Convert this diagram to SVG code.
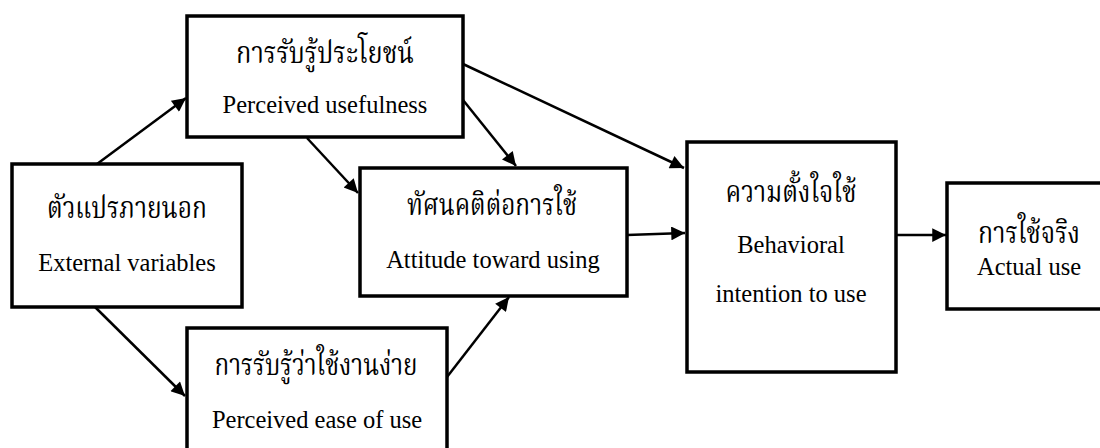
<svg xmlns="http://www.w3.org/2000/svg" width="1100" height="448" viewBox="0 0 1100 448">
  <style>
    .box { fill: #ffffff; stroke: #000000; stroke-width: 3.5; }
    .th { font-family: "Liberation Serif", "Noto Serif Thai", "Noto Sans Thai", serif; font-size: 30px; text-anchor: middle; fill: #000; }
    .en { font-family: "Liberation Serif", "Times New Roman", serif; font-size: 24.5px; text-anchor: middle; fill: #000; }
    .edge { stroke: #000000; stroke-width: 2.5; fill: none; marker-end: url(#arrow); }
  </style>
  <defs>
    <marker id="arrow" viewBox="0 0 10 10" refX="10" refY="5" markerWidth="6.5" markerHeight="5.5" markerUnits="strokeWidth" orient="auto">
      <path d="M0,0 L10,5 L0,10 z" fill="#000"/>
    </marker>
  </defs>
  <rect width="1100" height="448" fill="#ffffff"/>

  <!-- arrows between the constructs -->
  <g id="connectors">
    <line class="edge" x1="97" y1="164" x2="186" y2="98"/>
    <line class="edge" x1="95" y1="307" x2="185" y2="396"/>
    <line class="edge" x1="307" y1="138" x2="358" y2="193"/>
    <line class="edge" x1="463" y1="100" x2="516" y2="166"/>
    <line class="edge" x1="463" y1="64" x2="684" y2="168"/>
    <line class="edge" x1="627" y1="235" x2="685" y2="233"/>
    <line class="edge" x1="447" y1="377" x2="509" y2="297"/>
    <line class="edge" x1="896" y1="235" x2="946" y2="235"/>
  </g>

  <g id="usefulness">
    <rect class="box" x="187" y="16" width="276" height="121"/>
    <text class="th" x="325" y="63" textLength="178" lengthAdjust="spacingAndGlyphs">การรับรู้ประโยชน์</text>
    <text class="en" x="325" y="113">Perceived usefulness</text>
  </g>

  <g id="external">
    <rect class="box" x="12" y="164" width="230" height="143"/>
    <text class="th" x="127" y="218" textLength="160" lengthAdjust="spacingAndGlyphs">ตัวแปรภายนอก</text>
    <text class="en" x="127" y="271">External variables</text>
  </g>

  <g id="attitude">
    <rect class="box" x="360" y="168" width="267" height="128"/>
    <text class="th" x="492" y="215" textLength="170" lengthAdjust="spacingAndGlyphs">ทัศนคติต่อการใช้</text>
    <text class="en" x="493" y="268">Attitude toward using</text>
  </g>

  <g id="ease">
    <rect class="box" x="187" y="328" width="260" height="140"/>
    <text class="th" x="316" y="375" textLength="203" lengthAdjust="spacingAndGlyphs">การรับรู้ว่าใช้งานง่าย</text>
    <text class="en" x="317" y="428">Perceived ease of use</text>
  </g>

  <g id="intention">
    <rect class="box" x="687" y="142" width="209" height="230"/>
    <text class="th" x="791" y="202" textLength="131" lengthAdjust="spacingAndGlyphs">ความตั้งใจใช้</text>
    <text class="en" x="791" y="253">Behavioral</text>
    <text class="en" x="791" y="302">intention to use</text>
  </g>

  <g id="actual">
    <rect class="box" x="947" y="183" width="170" height="126"/>
    <text class="th" x="1029" y="243" textLength="102" lengthAdjust="spacingAndGlyphs">การใช้จริง</text>
    <text class="en" x="1029" y="275">Actual use</text>
  </g>
</svg>
